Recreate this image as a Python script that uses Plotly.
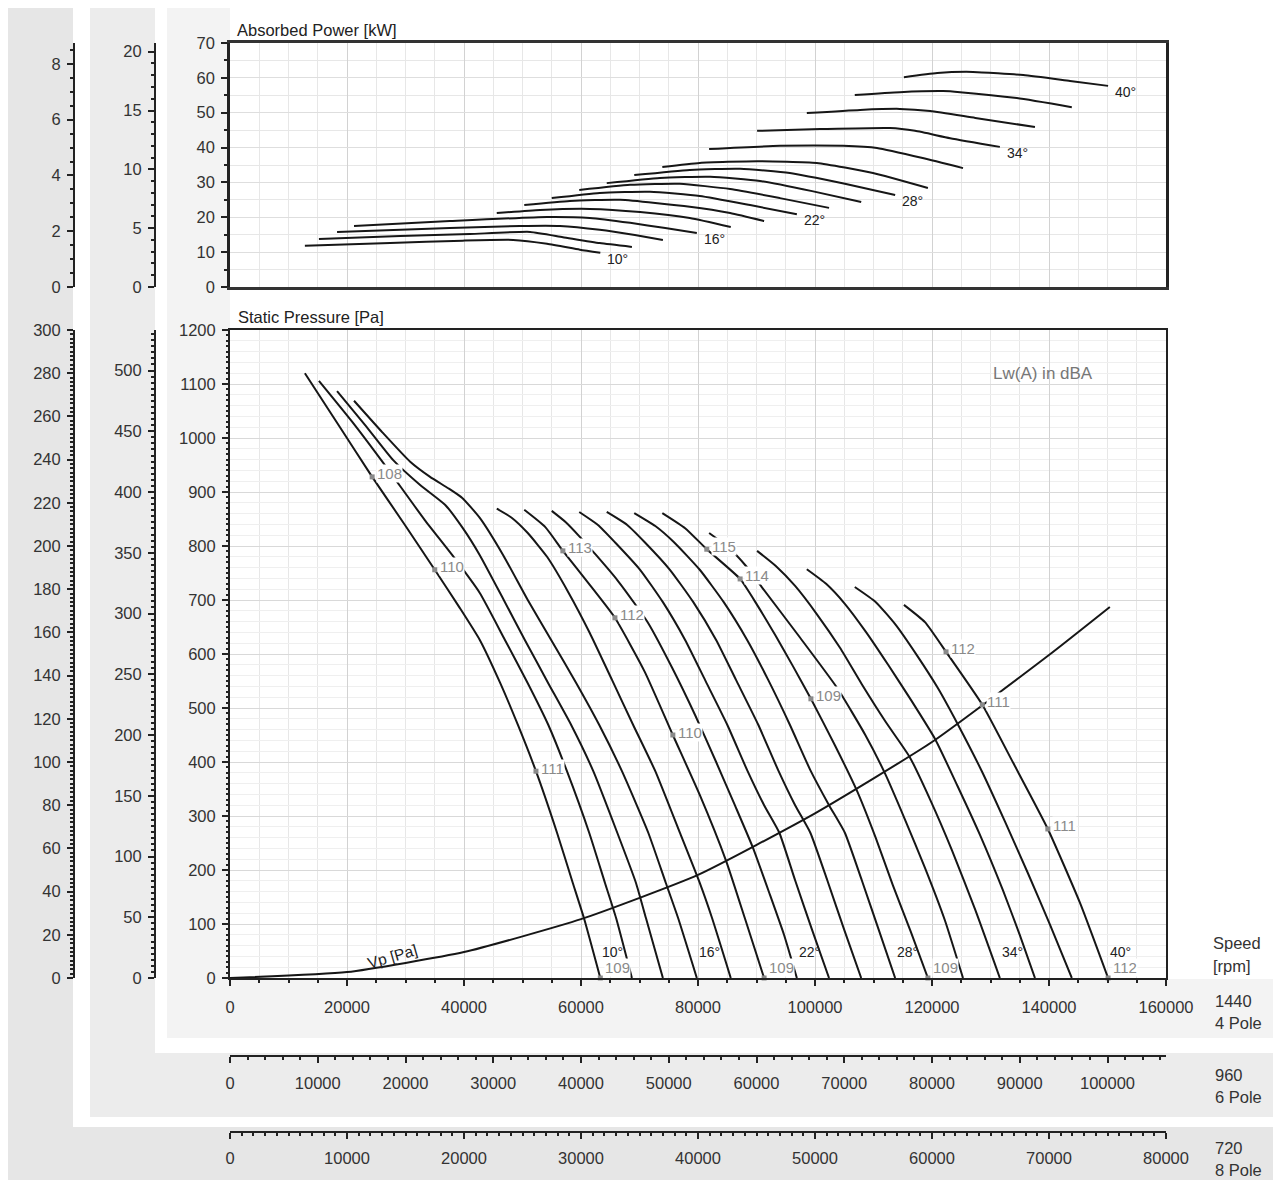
import plotly.graph_objects as go

PAGE_OFF = 8                      # default body margin of the html page
FIG_W, FIG_H = 1281 - PAGE_OFF, 1180 - PAGE_OFF
FONT = "Arial, Liberation Sans, sans-serif"
INK = "#161616"

# ---------------------------------------------------------------- data
blade_angles = [10, 12, 14, 16, 18, 20, 22, 24, 26, 28, 30, 32, 34, 36, 38, 40]
labelled_angles = [10, 16, 22, 28, 34, 40]

# static pressure curves at 1440 rpm : air volume [m3/h] / static pressure [Pa]
ps_q10 = [12800, 18800, 24300, 29900, 35000, 39300, 42700, 46200, 49200, 52300, 55900, 58600, 60500, 63300]
ps_p10 = [1120, 1020, 928, 839, 756, 685, 626, 546, 469, 383, 269, 176, 111, 0]
ps_q12 = [15200, 20900, 26200, 33300, 38000, 42700, 47000, 50900, 54400, 57600, 61400, 64100, 66000, 68700]
ps_p12 = [1106, 1030, 954, 848, 783, 713, 626, 546, 469, 383, 269, 176, 111, 0]
ps_q14 = [18300, 23100, 27900, 32500, 36800, 39800, 42700, 46800, 50400, 54400, 58300, 62100, 66200, 69400, 71100, 74000]
ps_p14 = [1087, 1024, 959, 913, 876, 833, 783, 700, 626, 546, 469, 383, 269, 176, 111, 0]
ps_q16 = [21200, 26000, 30800, 34200, 37300, 39700, 42700, 46700, 50900, 54900, 59200, 63100, 67000, 71500, 74500, 76600, 79800]
ps_p16 = [1069, 1011, 956, 928, 907, 889, 852, 783, 700, 626, 546, 469, 383, 269, 176, 111, 0]
ps_q18 = [45600, 48200, 50900, 54200, 57800, 61500, 65300, 68900, 72700, 76900, 80300, 82400, 85600]
ps_p18 = [869, 852, 824, 780, 715, 639, 552, 469, 383, 269, 176, 111, 0]
ps_q20 = [50300, 53900, 56900, 61500, 65800, 70900, 75700, 80300, 84800, 88000, 91300]
ps_p20 = [867, 835, 791, 728, 667, 567, 450, 339, 217, 111, 0]
ps_q22 = [55000, 57400, 59800, 62600, 66200, 69600, 71500, 75600, 79500, 83100, 86300, 89400, 92300, 94700, 96900]
ps_p22 = [865, 844, 817, 783, 737, 687, 657, 574, 487, 400, 320, 241, 154, 80, 0]
ps_q24 = [59700, 62900, 65800, 70100, 74000, 77800, 81200, 85000, 88400, 91300, 93900, 96600, 99500, 102400]
ps_p24 = [863, 839, 807, 756, 696, 626, 552, 469, 385, 320, 269, 181, 89, 0]
ps_q26 = [64400, 67900, 70900, 75200, 79200, 83100, 86500, 90300, 93700, 96600, 99200, 102100, 105000, 107900]
ps_p26 = [863, 839, 807, 756, 696, 626, 552, 469, 385, 320, 269, 181, 89, 0]
ps_q28 = [69100, 72700, 75900, 80300, 84400, 88400, 92000, 95700, 99200, 102400, 105100, 108000, 110900, 113700]
ps_p28 = [861, 837, 807, 756, 696, 626, 552, 469, 385, 320, 269, 181, 89, 0]
ps_q30 = [73900, 77800, 81500, 87200, 90100, 93200, 96200, 99300, 103400, 107200, 110400, 113300, 116400, 119300]
ps_p30 = [861, 833, 794, 739, 691, 635, 578, 517, 431, 346, 259, 172, 85, 0]
ps_q32 = [81900, 85100, 88200, 90900, 97400, 103800, 108600, 112000, 115400, 118800, 122200, 125300]
ps_p32 = [824, 798, 763, 724, 631, 537, 450, 378, 293, 204, 107, 0]
ps_q34 = [90100, 93300, 96600, 100300, 104300, 108000, 112100, 116200, 119700, 123400, 127400, 131600]
ps_p34 = [791, 763, 726, 674, 611, 544, 474, 409, 330, 237, 126, 0]
ps_q36 = [98600, 101900, 105100, 108700, 112500, 116400, 120500, 124300, 128200, 132100, 135000, 137600]
ps_p36 = [757, 730, 693, 641, 580, 515, 443, 357, 265, 163, 80, 0]
ps_q38 = [106800, 110400, 113800, 117400, 121000, 124400, 128600, 132500, 136400, 140200, 143900]
ps_p38 = [724, 696, 654, 598, 537, 470, 381, 289, 194, 98, 0]
ps_q40 = [115200, 118800, 122400, 128600, 133900, 139800, 145300, 150100]
ps_p40 = [691, 659, 604, 506, 398, 276, 139, 0]

# absorbed power curves at 1440 rpm : air volume [m3/h] / power [kW]
pw_q10 = [12800, 27400, 39800, 48400, 54200, 59800, 63300]
pw_k10 = [11.8, 12.6, 13.3, 13.5, 12.4, 10.7, 9.8]
pw_q12 = [15200, 29100, 41000, 51300, 56900, 63200, 68700]
pw_k12 = [13.8, 14.6, 15.2, 15.8, 14.3, 12.6, 11.5]
pw_q14 = [18300, 37600, 49600, 56400, 63200, 69200, 74000]
pw_k14 = [15.8, 16.9, 17.5, 17.5, 16.4, 14.9, 13.5]
pw_q16 = [21200, 37600, 54200, 61500, 68400, 74400, 79800]
pw_k16 = [17.5, 18.9, 20.1, 19.8, 18.4, 16.9, 15.5]
pw_q18 = [45600, 53000, 61500, 70100, 78600, 85600]
pw_k18 = [21.2, 22.1, 22.4, 21.5, 19.8, 17.2]
pw_q20 = [50300, 58100, 66700, 78600, 85500, 91300]
pw_k20 = [23.5, 24.7, 25.0, 23.0, 21.2, 18.9]
pw_q22 = [55000, 63200, 71800, 80300, 88900, 96900]
pw_k22 = [25.5, 27.0, 27.3, 26.1, 23.5, 20.9]
pw_q24 = [59700, 68400, 76900, 85500, 94000, 102400]
pw_k24 = [27.8, 29.3, 29.6, 28.1, 25.5, 22.7]
pw_q26 = [64400, 73500, 82100, 90600, 99500, 107900]
pw_k26 = [29.8, 31.3, 31.6, 30.4, 27.5, 24.4]
pw_q28 = [69100, 78600, 87200, 95700, 105100, 113700]
pw_k28 = [32.1, 33.6, 33.9, 32.7, 29.6, 26.4]
pw_q30 = [73900, 80300, 90100, 100300, 109900, 119300]
pw_k30 = [34.4, 35.6, 36.1, 35.6, 32.7, 28.4]
pw_q32 = [81900, 94000, 104800, 110600, 118400, 125300]
pw_k32 = [39.6, 40.5, 40.5, 39.9, 37.0, 34.1]
pw_q34 = [90100, 100900, 112800, 117100, 123100, 131600]
pw_k34 = [44.8, 45.3, 45.6, 44.8, 42.7, 40.2]
pw_q36 = [98600, 107700, 114500, 119700, 127400, 137600]
pw_k36 = [49.9, 50.8, 51.1, 50.5, 48.5, 45.9]
pw_q38 = [106800, 114500, 121900, 124800, 134500, 143900]
pw_k38 = [55.1, 55.9, 56.2, 55.9, 54.2, 51.6]
pw_q40 = [115200, 120900, 127000, 135600, 143600, 150100]
pw_k40 = [60.2, 61.4, 61.7, 60.8, 59.1, 57.7]

# dynamic pressure line
vp_q = [0, 20000, 40000, 60000, 80000, 100000, 120000, 140000, 150400]
vp_p = [0, 11, 48, 109, 191, 305, 437, 598, 687]

# sound power points Lw(A) [dBA]
lw_q = [24300, 35000, 52300, 63300, 56900, 65800, 75700, 91300,
        81500, 87200, 99300, 119300, 122400, 128600, 139800, 150100]
lw_p = [928, 756, 383, 0, 791, 667, 450, 0, 794, 739, 517, 0, 604, 506, 276, 0]
lw_txt = ["108", "110", "111", "109", "113", "112", "110", "109",
          "115", "114", "109", "109", "112", "111", "111", "112"]

# speeds / scales
speeds_rpm = [1440, 960, 720]
pole_txt = ["4 Pole", "6 Pole", "8 Pole"]
flow_max, ps_max, pw_max = 160000, 1200, 70

ps_curves = [(ps_q10, ps_p10), (ps_q12, ps_p12), (ps_q14, ps_p14), (ps_q16, ps_p16),
             (ps_q18, ps_p18), (ps_q20, ps_p20), (ps_q22, ps_p22), (ps_q24, ps_p24),
             (ps_q26, ps_p26), (ps_q28, ps_p28), (ps_q30, ps_p30), (ps_q32, ps_p32),
             (ps_q34, ps_p34), (ps_q36, ps_p36), (ps_q38, ps_p38), (ps_q40, ps_p40)]
pw_curves = [(pw_q10, pw_k10), (pw_q12, pw_k12), (pw_q14, pw_k14), (pw_q16, pw_k16),
             (pw_q18, pw_k18), (pw_q20, pw_k20), (pw_q22, pw_k22), (pw_q24, pw_k24),
             (pw_q26, pw_k26), (pw_q28, pw_k28), (pw_q30, pw_k30), (pw_q32, pw_k32),
             (pw_q34, pw_k34), (pw_q36, pw_k36), (pw_q38, pw_k38), (pw_q40, pw_k40)]

# ---------------------------------------------------------------- layout helpers
def fx(px):            # page pixel -> paper fraction
    return (px - PAGE_OFF) / FIG_W

def fy(py):
    return 1 - (py - PAGE_OFF) / FIG_H

X_DOM = [fx(230), fx(1166)]
Y_PS = [fy(978), fy(330)]
Y_PW = [fy(287), fy(43)]
POS_MID = fx(155)
POS_OUT = fx(74)

fig = go.Figure()

line_style = dict(color=INK, width=2, shape="spline", smoothing=0.5)
for q, p in ps_curves:
    fig.add_trace(go.Scatter(x=q, y=p, xaxis="x", yaxis="y", mode="lines",
                             line=line_style, hoverinfo="skip", showlegend=False))
for q, k in pw_curves:
    fig.add_trace(go.Scatter(x=q, y=k, xaxis="x2", yaxis="y2", mode="lines",
                             line=line_style, hoverinfo="skip", showlegend=False))
fig.add_trace(go.Scatter(x=vp_q, y=vp_p, xaxis="x", yaxis="y", mode="lines",
                         line=line_style, hoverinfo="skip", showlegend=False))
fig.add_trace(go.Scatter(x=lw_q, y=lw_p, xaxis="x", yaxis="y", mode="markers",
                         marker=dict(symbol="square", size=5, color="#8a8a8a"),
                         hoverinfo="skip", showlegend=False, cliponaxis=False))

# invisible traces so that the secondary scales are drawn
for xa, ya in [("x", "y3"), ("x", "y4"), ("x2", "y5"), ("x2", "y6"), ("x3", "y"), ("x4", "y"),
               ("x", "y7")]:
    fig.add_trace(go.Scatter(x=[None], y=[None], xaxis=xa, yaxis=ya, mode="lines",
                             hoverinfo="skip", showlegend=False))

tickfont = dict(family=FONT, size=16.5, color="#333")

def axis_base(**kw):
    d = dict(showline=True, linecolor="#222", linewidth=2, ticks="outside", ticklen=6,
             tickwidth=2, tickcolor="#222", tickfont=tickfont, automargin=False,
             zeroline=False, showgrid=False, tickformat="d", fixedrange=True)
    d.update(kw)
    return d

def minor(dt, grid=False, gridcolor="#ececec", ticks="outside"):
    return dict(dtick=dt, ticks=ticks, ticklen=3, tickwidth=1.5, tickcolor="#222",
                showgrid=grid, gridcolor=gridcolor, gridwidth=1)

r = [s / speeds_rpm[0] for s in speeds_rpm]

layout_axes = dict(
    xaxis=axis_base(domain=X_DOM, range=[0, flow_max], anchor="y", dtick=20000, tick0=0,
                    showgrid=True, gridcolor="#d2d2d2", gridwidth=1, mirror=True,
                    minor=minor(5000, True, "#e7e7e7"), ticklabelstandoff=7),
    yaxis=axis_base(domain=Y_PS, range=[0, ps_max], anchor="x", dtick=100, mirror=True,
                    showgrid=True, gridcolor="#d9d9d9",
                    minor=dict(dtick=20, ticks="", showgrid=True, gridcolor="#efefef"),
                    ticklabelstandoff=3),
    # tick-only twin of the pressure scale (minor ticks every 10 Pa)
    yaxis7=axis_base(overlaying="y", anchor="x", side="left", range=[0, ps_max], dtick=100,
                     showline=False, showticklabels=False, minor=minor(10)),
    xaxis2=axis_base(domain=X_DOM, range=[0, flow_max], anchor="y2", dtick=20000,
                     showticklabels=False, ticks="", mirror=True, linewidth=2.5, linecolor="#333",
                     showgrid=True, gridcolor="#d2d2d2",
                     minor=dict(dtick=5000, ticks="", showgrid=True, gridcolor="#e7e7e7")),
    yaxis2=axis_base(domain=Y_PW, range=[0, pw_max], anchor="x2", dtick=10, mirror=True,
                     linewidth=2.5, showgrid=True, gridcolor="#dedede",
                     minor=minor(5, True, "#e7e7e7"), ticklabelstandoff=3),
    yaxis3=axis_base(overlaying="y", anchor="free", position=POS_MID, side="left",
                     range=[0, ps_max * r[1] ** 2], dtick=50, minor=minor(5), ticklabelstandoff=3),
    yaxis4=axis_base(overlaying="y", anchor="free", position=POS_OUT, side="left",
                     range=[0, ps_max * r[2] ** 2], dtick=20, minor=minor(2), ticklabelstandoff=3),
    yaxis5=axis_base(overlaying="y2", anchor="free", position=POS_MID, side="left",
                     range=[0, pw_max * r[1] ** 3], dtick=5, minor=minor(1), ticklabelstandoff=3),
    yaxis6=axis_base(overlaying="y2", anchor="free", position=POS_OUT, side="left",
                     range=[0, pw_max * r[2] ** 3], dtick=2, minor=minor(0.5), ticklabelstandoff=3),
    xaxis3=axis_base(overlaying="x", anchor="free", position=fy(1056), side="bottom",
                     range=[0, flow_max * r[1]], dtick=10000, minor=minor(2000),
                     ticklabelstandoff=6),
    xaxis4=axis_base(overlaying="x", anchor="free", position=fy(1132), side="bottom",
                     range=[0, flow_max * r[2]], dtick=10000, minor=minor(1000),
                     ticklabelstandoff=5),
)

# background bands (L shapes)
shapes = []
def band(x0, x1, y0, y1, color):
    shapes.append(dict(type="rect", xref="paper", yref="paper", x0=fx(x0), x1=fx(x1),
                       y0=fy(y1), y1=fy(y0), line=dict(width=0), fillcolor=color, layer="below"))
band(167, 230, 8, 1038, "#f3f3f3")
band(167, 1281, 979, 1038, "#f3f3f3")
band(90, 155, 8, 1117, "#ececec")
band(90, 1281, 1053, 1117, "#ececec")
band(8, 73, 8, 1180, "#e6e6e6")
band(8, 1281, 1127, 1180, "#e6e6e6")

ann = []
def text(x, y, s, size=15, color="#222", xref="paper", yref="paper", xanchor="left",
         yanchor="middle", **kw):
    ann.append(dict(x=x, y=y, text=s, xref=xref, yref=yref, xanchor=xanchor, yanchor=yanchor,
                    showarrow=False, font=dict(family=FONT, size=size, color=color), **kw))

text(fx(235), fy(30), "Absorbed Power [kW]", size=16.5)
text(fx(236), fy(317), "Static Pressure [Pa]", size=16.5)
text(138975, 1120, "Lw(A) in dBA", size=17, color="#777", xref="x", yref="y", xanchor="center")
text(27700, 40, "Vp [Pa]", size=15.5, color="#222", xref="x", yref="y", xanchor="center",
     textangle=-16)

# speed labels
text(fx(1211), fy(943), "Speed", size=16.5, color="#333")
text(fx(1211), fy(966), "[rpm]", size=16.5, color="#333")
for i, (rpm, pole) in enumerate(zip(speeds_rpm, pole_txt)):
    base = [1001, 1075, 1148][i]
    text(fx(1213), fy(base), str(rpm), size=16.5, color="#333")
    text(fx(1213), fy(base + 22), pole, size=16.5, color="#333")

# blade angle labels
for a, (q, p) in zip(blade_angles, ps_curves):
    if a in labelled_angles:
        text(q[-1], p[-1], f"{a}°", size=14, color="#222", xref="x", yref="y", yshift=26)
for a, (q, k) in zip(blade_angles, pw_curves):
    if a in labelled_angles:
        text(q[-1], k[-1], f"{a}°", size=14, color="#222", xref="x2", yref="y2",
             xshift=5, yshift=-6)

# Lw labels (white box breaks the neighbouring curve)
for q, p, s in zip(lw_q, lw_p, lw_txt):
    text(q, p, s, size=15, color="#8a8a8a", xref="x", yref="y", xshift=4,
         yshift=11 if p == 0 else 3, bgcolor="white", borderpad=0)

fig.update_layout(
    width=FIG_W, height=FIG_H, autosize=False,
    margin=dict(l=0, r=0, t=0, b=0, pad=0),
    paper_bgcolor="white", plot_bgcolor="white",
    font=dict(family=FONT, size=15, color="#333"),
    showlegend=False, hovermode=False,
    shapes=shapes, annotations=ann,
    **layout_axes,
)

fig.write_html("out.html")
